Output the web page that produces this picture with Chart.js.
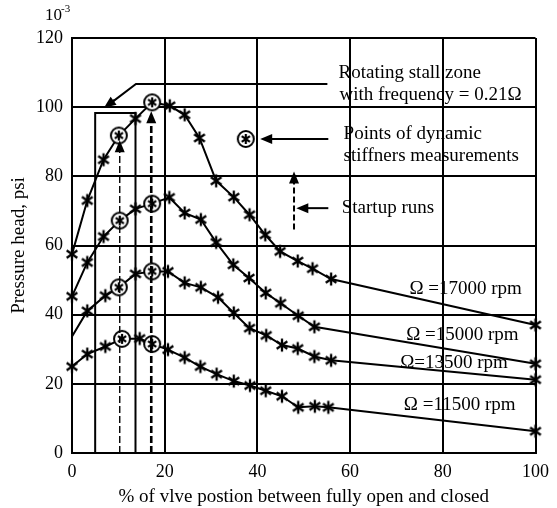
<!DOCTYPE html>
<html>
<head>
<meta charset="utf-8">
<script src="https://cdn.jsdelivr.net/npm/chart.js@4.4.1/dist/chart.umd.min.js"></script>
<style>
  body { margin: 0; background: #fff; }
  #wrap { width: 557px; height: 508px; }
</style>
</head>
<body>
<div id="wrap"><canvas id="chart" width="557" height="508"></canvas></div>
<script>
// values (x = % valve position, y = pressure head x10^-3 psi)
const xs17000 = [0, 3.3, 6.8, 10.1, 13.7, 17.3, 21.1, 24.3, 27.5, 31.1, 34.9, 38.3, 41.7, 44.9, 48.7, 51.9, 55.9, 100];
const ys17000 = [57.5, 73.0, 84.8, 91.8, 96.7, 101.4, 100.4, 97.8, 91.1, 78.7, 74.0, 68.9, 63.1, 58.3, 55.5, 53.3, 50.3, 37.0];
const xs15000 = [0, 3.3, 6.8, 10.3, 13.7, 17.3, 21.0, 24.3, 27.8, 31.1, 34.8, 38.2, 41.8, 45.0, 48.8, 52.3, 100];
const ys15000 = [45.3, 55.1, 62.6, 67.2, 70.6, 72.1, 73.9, 69.4, 67.5, 60.9, 54.4, 50.6, 46.3, 43.3, 39.7, 36.5, 25.8];
const xs13500 = [0, 3.3, 7.2, 10.1, 13.7, 17.3, 20.7, 24.3, 27.8, 31.5, 34.9, 38.3, 41.9, 45.3, 48.7, 52.3, 55.9, 100];
const ys13500 = [33.7, 41.1, 45.5, 47.9, 51.8, 52.5, 52.5, 49.2, 47.9, 45.0, 40.5, 36.1, 34.0, 31.2, 30.2, 27.9, 26.8, 21.2];
const xs11500 = [0, 3.3, 7.2, 10.8, 14.6, 17.3, 20.7, 24.3, 27.7, 31.2, 34.9, 38.4, 41.8, 45.3, 48.8, 52.4, 55.3, 100];
const ys11500 = [25.0, 28.6, 30.8, 33.0, 33.1, 31.5, 29.9, 27.6, 25.0, 22.8, 20.8, 19.5, 18.0, 16.4, 13.2, 13.5, 13.2, 6.3];
// indices of the circled points (dynamic stiffness measurements)
const circledIdx = [3, 5];
const legendX = [37.5];
const legendY = [90.8];

const xTicks = [0, 20, 40, 60, 80, 100];
const yTicks = [0, 20, 40, 60, 80, 100, 120];

const FONT = '"Liberation Serif", "Times New Roman", serif';

// asterisk marker
function makeStar(r, lw) {
  const c = document.createElement('canvas');
  const s = Math.ceil(2 * r + lw + 2);
  c.width = c.height = s;
  const g = c.getContext('2d');
  g.strokeStyle = '#000';
  g.lineWidth = lw;
  const m = s / 2;
  [90, 35, 145].forEach(a => {
    const t = a * Math.PI / 180;
    g.beginPath();
    g.moveTo(m - r * Math.cos(t), m - r * Math.sin(t));
    g.lineTo(m + r * Math.cos(t), m + r * Math.sin(t));
    g.stroke();
  });
  return c;
}
function makeCircled(R, r) {
  const c = document.createElement('canvas');
  const s = Math.ceil(2 * R + 4);
  c.width = c.height = s;
  const g = c.getContext('2d');
  const m = s / 2;
  g.fillStyle = '#fff';
  g.strokeStyle = '#000';
  g.lineWidth = 2;
  g.beginPath(); g.arc(m, m, R, 0, Math.PI * 2); g.fill(); g.stroke();
  g.lineWidth = 2.2;
  [90, 35, 145].forEach(a => {
    const t = a * Math.PI / 180;
    g.beginPath();
    g.moveTo(m - r * Math.cos(t), m - r * Math.sin(t));
    g.lineTo(m + r * Math.cos(t), m + r * Math.sin(t));
    g.stroke();
  });
  return c;
}
const starImg = makeStar(6.5, 2.3);
const circImg = makeCircled(8, 5);

function pts(xs, ys) { return xs.map((x, i) => ({ x, y: ys[i] })); }

function curve(label, xs, ys, noMarker) {
  return {
    label,
    data: pts(xs, ys),
    borderColor: '#000',
    borderWidth: 2,
    tension: 0,
    clip: false,
    pointStyle: c => circledIdx.includes(c.dataIndex) ? circImg : starImg,
    pointRadius: c => (noMarker && noMarker.includes(c.dataIndex)) ? 0 : 5,
    pointHoverRadius: 5
  };
}

// annotations in data units
const annot = {
  id: 'annot',
  afterDatasetsDraw(chart) {
    const { ctx, scales: { x, y } } = chart;
    const X = v => x.getPixelForValue(v), Y = v => y.getPixelForValue(v);
    ctx.save();
    ctx.strokeStyle = '#000';
    ctx.fillStyle = '#000';

    function line(pts, lw, dash) {
      ctx.lineWidth = lw;
      ctx.setLineDash(dash || []);
      ctx.beginPath();
      pts.forEach((p, i) => i ? ctx.lineTo(X(p[0]), Y(p[1])) : ctx.moveTo(X(p[0]), Y(p[1])));
      ctx.stroke();
      ctx.setLineDash([]);
    }
    function head(from, to, len, w) {
      const x1 = X(from[0]), y1 = Y(from[1]), x2 = X(to[0]), y2 = Y(to[1]);
      const a = Math.atan2(y2 - y1, x2 - x1);
      ctx.beginPath();
      ctx.moveTo(x2, y2);
      ctx.lineTo(x2 - len * Math.cos(a) + w * Math.sin(a), y2 - len * Math.sin(a) - w * Math.cos(a));
      ctx.lineTo(x2 - len * Math.cos(a) - w * Math.sin(a), y2 - len * Math.sin(a) + w * Math.cos(a));
      ctx.closePath();
      ctx.fill();
    }
    function arrow(from, to, lw, dash) {
      const x1 = X(from[0]), y1 = Y(from[1]), x2 = X(to[0]), y2 = Y(to[1]);
      const d = Math.hypot(x2 - x1, y2 - y1), k = (d - 8) / d;
      ctx.lineWidth = lw;
      ctx.setLineDash(dash || []);
      ctx.beginPath();
      ctx.moveTo(x1, y1);
      ctx.lineTo(x1 + (x2 - x1) * k, y1 + (y2 - y1) * k);
      ctx.stroke();
      ctx.setLineDash([]);
      head(from, to, 12, 5);
    }

    // stall zone box
    line([[5.0, 0], [5.0, 98.3], [13.7, 98.3], [13.7, 0]], 2);
    // leader to "Rotating stall zone"
    line([[55.1, 106.7], [13.8, 106.7], [8.5, 101.3]], 2);
    arrow([9.2, 102.1], [6.9, 99.8], 2);
    // startup run dashed arrows
    arrow([10.3, 0], [10.3, 90.4], 1.4, [7, 3]);
    arrow([17.1, 0], [17.1, 98.8], 2.6, [7, 3]);
    // points arrow
    arrow([55.3, 90.8], [40.6, 90.8], 2);
    // startup legend
    arrow([47.9, 64.6], [47.9, 81.4], 2, [6, 3]);
    arrow([55.3, 70.8], [48.4, 70.8], 2);

    ctx.font = '19px ' + FONT;
    ctx.textBaseline = 'middle';
    ctx.textAlign = 'left';
    const texts = [
      ['Rotating stall zone', 57.5, 109.9],
      ['with frequency = 0.21\u03A9', 57.7, 103.6],
      ['Points of dynamic', 58.6, 92.3],
      ['stiffners measurements', 58.6, 86.0],
      ['Startup runs', 58.2, 70.9],
      ['\u03A9 =17000 rpm', 72.8, 47.5],
      ['\u03A9 =15000 rpm', 72.1, 34.2],
      ['\u03A9=13500 rpm', 70.8, 26.1],
      ['\u03A9 =11500 rpm', 71.6, 14.0]
    ];
    texts.forEach(t => ctx.fillText(t[0], X(t[1]), Y(t[2])));

    // 10^-3 multiplier
    const a = chart.chartArea;
    ctx.font = '17px ' + FONT;
    ctx.fillText('10', a.left - 27, a.top - 22);
    ctx.font = '11px ' + FONT;
    ctx.fillText('-3', a.left - 11, a.top - 29);
    ctx.restore();
  }
};

new Chart(document.getElementById('chart'), {
  type: 'line',
  data: {
    datasets: [
      curve('17000', xs17000, ys17000),
      curve('15000', xs15000, ys15000),
      curve('13500', xs13500, ys13500, [0]),
      curve('11500', xs11500, ys11500),
      {
        label: 'measurement',
        data: pts(legendX, legendY),
        showLine: false,
        pointStyle: circImg,
        pointRadius: 5,
        clip: false
      }
    ]
  },
  options: {
    responsive: false,
    animation: false,
    events: [],
    layout: { padding: { left: 0, top: 38, right: 14, bottom: 0 } },
    plugins: { legend: { display: false }, tooltip: { enabled: false } },
    scales: {
      x: {
        type: 'linear', min: 0, max: 100,
        afterFit: s => { s.height = 55; },
        afterBuildTicks: s => { s.ticks = xTicks.map(v => ({ value: v })); },
        grid: { color: '#000', lineWidth: 2, drawTicks: false },
        border: { color: '#000', width: 2 },
        ticks: { color: '#000', padding: 8, font: { family: FONT, size: 18 } },
        title: {
          display: true, text: '% of vlve postion between fully open and closed',
          color: '#000', font: { family: FONT, size: 19 }, padding: { top: 9, bottom: 0 }
        }
      },
      y: {
        type: 'linear', min: 0, max: 120,
        afterFit: s => { s.width = 72; },
        afterBuildTicks: s => { s.ticks = yTicks.map(v => ({ value: v })); },
        grid: { color: '#000', lineWidth: 2, drawTicks: false },
        border: { color: '#000', width: 2 },
        ticks: { color: '#000', padding: 9, font: { family: FONT, size: 18 } },
        title: {
          display: true, text: 'Pressure head, psi',
          color: '#000', font: { family: FONT, size: 19 }, padding: { top: 8, bottom: 0 }
        }
      }
    }
  },
  plugins: [annot]
});
</script>
</body>
</html>
